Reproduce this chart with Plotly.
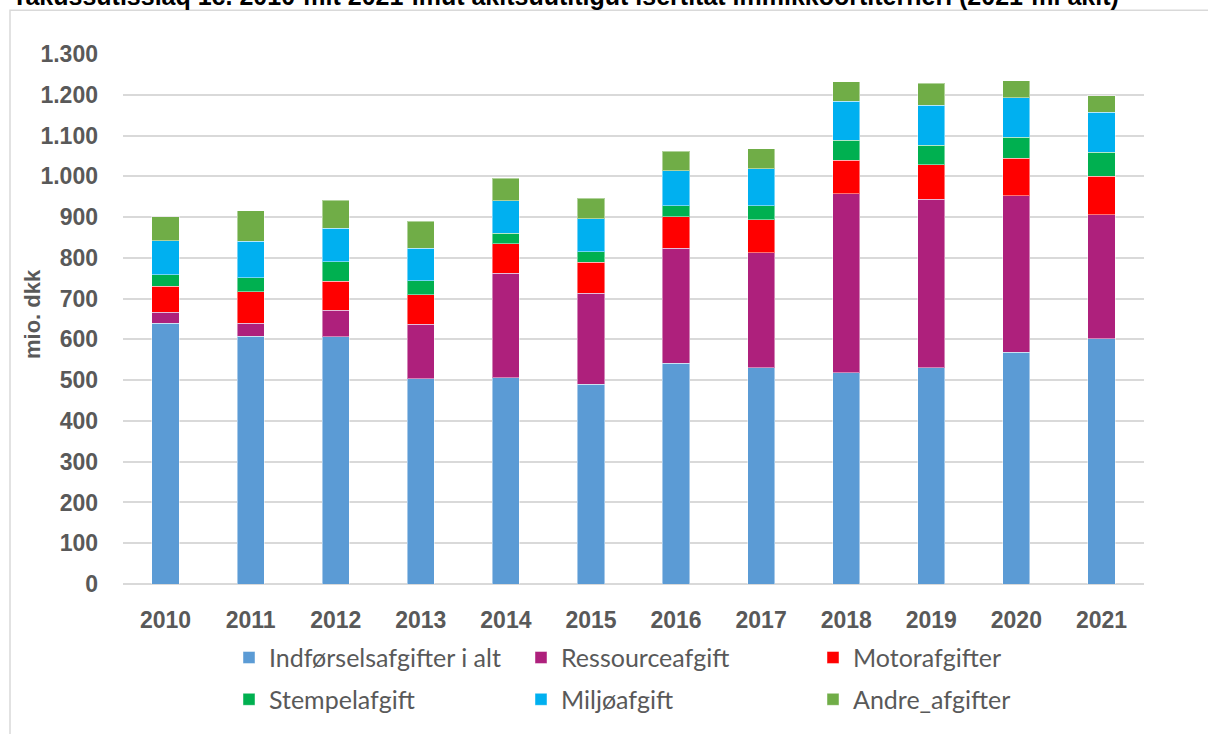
import plotly.graph_objects as go

years = ["2010", "2011", "2012", "2013", "2014", "2015", "2016", "2017", "2018", "2019", "2020", "2021"]
indforsel = [640, 608, 606, 503, 506, 490, 542, 530, 518, 531, 568, 602]
ressource = [26, 31, 65, 134, 256, 223, 281, 283, 439, 413, 384, 304]
motor = [64, 78, 71, 73, 73, 76, 78, 80, 82, 84, 92, 94]
stempel = [28, 34, 49, 34, 25, 26, 27, 35, 50, 48, 52, 59]
miljo = [84, 90, 81, 80, 80, 81, 86, 90, 95, 98, 97, 98]
andre = [59, 74, 69, 66, 55, 50, 47, 49, 48, 54, 42, 41]

series = [
    ("Indførselsafgifter i alt", indforsel, "#5B9BD5", "legend"),
    ("Ressourceafgift", ressource, "#AE207C", "legend"),
    ("Motorafgifter", motor, "#FF0000", "legend"),
    ("Stempelafgift", stempel, "#00B050", "legend2"),
    ("Miljøafgift", miljo, "#00B0F0", "legend2"),
    ("Andre_afgifter", andre, "#70AD47", "legend2"),
]

title_text = "Takussutissiaq 1c. 2010-mit 2021-imut akitsuutitigut isertitat immikkoortiterneri (2021-mi akit)"
y_title = "mio. dkk"

fig = go.Figure()
for name, vals, col, lg in series:
    fig.add_trace(go.Bar(
        x=years, y=vals, name=name, legend=lg,
        marker=dict(color=col, line=dict(color="rgba(255,255,255,0.45)", width=1)),
    ))

W, H = 1208, 734
L, R, T, B = 123, 64, 54, 148
pw, ph = W - L - R, H - T - B

def px_x(p):
    return (p - L) / pw

def px_y(p):
    return (H - B - p) / ph

legend_font = dict(family="Lato", size=25, color="#595959")
tick_font = dict(family="Liberation Sans", size=23, color="#595959", weight="bold")
fig.update_layout(
    width=W, height=H,
    margin=dict(l=L, r=R, t=T, b=B, pad=0),
    barmode="stack",
    bargap=0.68,
    plot_bgcolor="white",
    paper_bgcolor="white",
    font=dict(family="Liberation Sans"),
    xaxis=dict(
        showgrid=False, showline=False, ticks="",
        tickfont=tick_font,
        ticklabelstandoff=20,
    ),
    yaxis=dict(
        range=[0, 1300], dtick=100, tickformat=",d",
        showgrid=True, gridcolor="#D9D9D9", gridwidth=2,
        zeroline=True, zerolinecolor="#D9D9D9", zerolinewidth=2,
        showline=False, ticks="",
        tickfont=tick_font,
        ticklabelstandoff=24,
    ),
    separators=",.",
    legend=dict(
        orientation="h", x=px_x(229), y=px_y(660), xanchor="left", yanchor="middle",
        font=legend_font, entrywidth=247, entrywidthmode="pixels", traceorder="normal",
        bgcolor="rgba(0,0,0,0)",
    ),
    legend2=dict(
        orientation="h", x=px_x(229), y=px_y(702), xanchor="left", yanchor="middle",
        font=legend_font, entrywidth=247, entrywidthmode="pixels", traceorder="normal",
        bgcolor="rgba(0,0,0,0)",
    ),
    showlegend=True,
)

fig.add_shape(type="rect", xref="paper", yref="paper",
              x0=px_x(10), x1=px_x(1215), y0=px_y(745), y1=px_y(10),
              line=dict(color="#D9D9D9", width=1.5), fillcolor="rgba(0,0,0,0)", layer="below")

fig.add_annotation(text=title_text, xref="paper", yref="paper",
                   x=px_x(10), y=px_y(12), xanchor="left", yanchor="bottom",
                   showarrow=False,
                   font=dict(family="Liberation Sans", size=25, color="black", weight="bold"))

fig.add_annotation(text=y_title, xref="paper", yref="paper",
                   x=px_x(32), y=px_y(315), xanchor="center", yanchor="middle",
                   textangle=-90, showarrow=False,
                   font=dict(family="Liberation Sans", size=22, color="#595959", weight="bold"))

fig.write_html("out.html", post_script="document.body.style.margin='0';",
               config={"displayModeBar": False})
